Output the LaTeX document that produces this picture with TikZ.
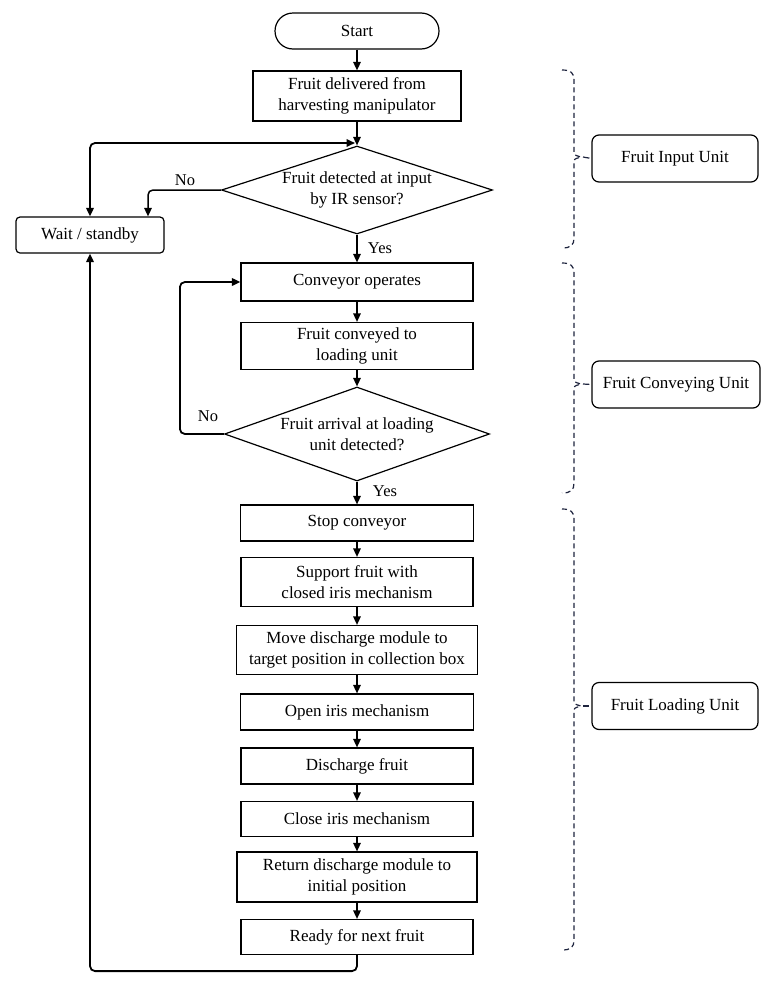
\documentclass[tikz,border=0pt]{standalone}
\usepackage{fontspec}
\setmainfont{Liberation Serif}
\usetikzlibrary{shapes.geometric,arrows.meta,calc}
\definecolor{bracecol}{RGB}{30,36,62}
\newcommand\unitbrace[4]{%
  \draw[brace] (562,#1) .. controls (571,#1) and (574,{#1+3}) .. (574,{#1+10})
     -- (574,{#2-6}) .. controls (574,{#2-2}) .. (581,#2)
     .. controls (574,{#2+2}) .. (574,{#2+6})
     -- (574,{#3-10}) .. controls (574,{#3-3}) and (571,#3) .. (562,#3);
  \coordinate (tip#4) at (583,#2);
  \draw[bracetie] (tip#4) -- (#4.west);
}
\begin{document}
\begin{tikzpicture}[x=1pt,y=-1pt,font=\fontsize{17}{20.5}\selectfont]
\tikzset{
 proc/.style={draw, line width=1.2pt, align=center, inner sep=0pt},
 dec/.style={draw, line width=1.2pt, diamond, inner sep=0pt},
 unitbox/.style={draw, line width=1.2pt, rounded corners=7pt, align=center, minimum width=166pt, minimum height=47pt},
 flow/.style={line width=1.5pt, -{Triangle[length=8.5pt,width=7.5pt]}},
 loopline/.style={line width=1.8pt, rounded corners=5pt, -{Triangle[length=8.5pt,width=7.5pt]}},
 loopboth/.style={line width=1.8pt, rounded corners=5pt, {Triangle[length=8.5pt,width=7.5pt]}-{Triangle[length=8.5pt,width=7.5pt]}},
 lbl/.style={font=\fontsize{16.5}{19}\selectfont, inner sep=0pt},
 brace/.style={draw=bracecol, line width=1.2pt, dash pattern=on 5pt off 3.5pt},
 bracetie/.style={draw=bracecol, line width=1.2pt, shorten <=0pt, shorten >=2pt},
}
\fill[white] (0,0) rectangle (772,983);
\useasboundingbox (0,0) rectangle (772,983);

% main column
\node[proc, rounded corners=18pt, minimum width=164pt, minimum height=36pt] (start) at (357,31) {Start};
\node[proc, minimum width=208pt, minimum height=50pt] (deliv) at (357,96) {Fruit delivered from\\harvesting manipulator};
\node[dec, minimum width=271pt, minimum height=88pt,
  label={[align=center]center:{Fruit detected at input\\by IR sensor?}}] (d1) at (357,190) {};
\node[proc, rounded corners=4pt, minimum width=148pt, minimum height=36pt] (wait) at (90,235) {Wait / standby};
\node[proc, minimum width=232pt, minimum height=38pt] (conv) at (357,282) {Conveyor operates};
\node[proc, minimum width=232pt, minimum height=47pt] (conveyed) at (357,346) {Fruit conveyed to\\loading unit};
\node[dec, minimum width=265pt, minimum height=94pt,
  label={[align=center]center:{Fruit arrival at loading\\unit detected?}}] (d2) at (357,434) {};
\node[proc, minimum width=233pt, minimum height=36pt] (stop) at (357,523) {Stop conveyor};
\node[proc, minimum width=232pt, minimum height=49pt] (support) at (357,582) {Support fruit with\\closed iris mechanism};
\node[proc, minimum width=241pt, minimum height=49pt] (move) at (357,650) {Move discharge module to\\target position in collection box};
\node[proc, minimum width=233pt, minimum height=36pt] (open) at (357,712) {Open iris mechanism};
\node[proc, minimum width=232pt, minimum height=36pt] (dis) at (357,766) {Discharge fruit};
\node[proc, minimum width=232pt, minimum height=35pt] (close) at (357,819) {Close iris mechanism};
\node[proc, minimum width=240pt, minimum height=50pt] (ret) at (357,877) {Return discharge module to\\initial position};
\node[proc, minimum width=232pt, minimum height=35pt] (ready) at (357,937) {Ready for next fruit};

% unit boxes
\node[unitbox] (u1) at (675,158.5) {Fruit Input Unit};
\node[unitbox, minimum width=168pt] (u2) at (676,384.5) {Fruit Conveying Unit};
\node[unitbox] (u3) at (675,706) {Fruit Loading Unit};

% connectors
\draw[flow] (start) -- (deliv);
\draw[flow] (deliv) -- (d1.north);
\coordinate (jn) at (355,143);
\draw[loopboth] (wait.north) |- (jn);
\draw[flow, rounded corners=5pt] (d1.west) -| ($(wait.north)+(58,0)$);
\node[lbl] (no1) at (185,180) {No};
\draw[flow] (d1.south) -- (conv.north);
\node[lbl] (yes1) at (380,248) {Yes};
\draw[flow] (conv) -- (conveyed);
\draw[flow] (conveyed) -- (d2.north);
\draw[loopline] (d2.west) -- ++(-44,0) |- (conv.west);
\node[lbl] (no2) at (208,416) {No};
\draw[flow] (d2.south) -- (stop.north);
\node[lbl] (yes2) at (385,491) {Yes};
\draw[flow] (stop) -- (support);
\draw[flow] (support) -- (move);
\draw[flow] (move) -- (open);
\draw[flow] (open) -- (dis);
\draw[flow] (dis) -- (close);
\draw[flow] (close) -- (ret);
\draw[flow] (ret) -- (ready);
\draw[loopline] (ready.south) -- ++(0,16) -| (wait.south);

% braces
\unitbrace{70}{157}{248}{u1}
\unitbrace{263}{384}{493}{u2}
\unitbrace{509}{706}{950}{u3}
\end{tikzpicture}
\end{document}
